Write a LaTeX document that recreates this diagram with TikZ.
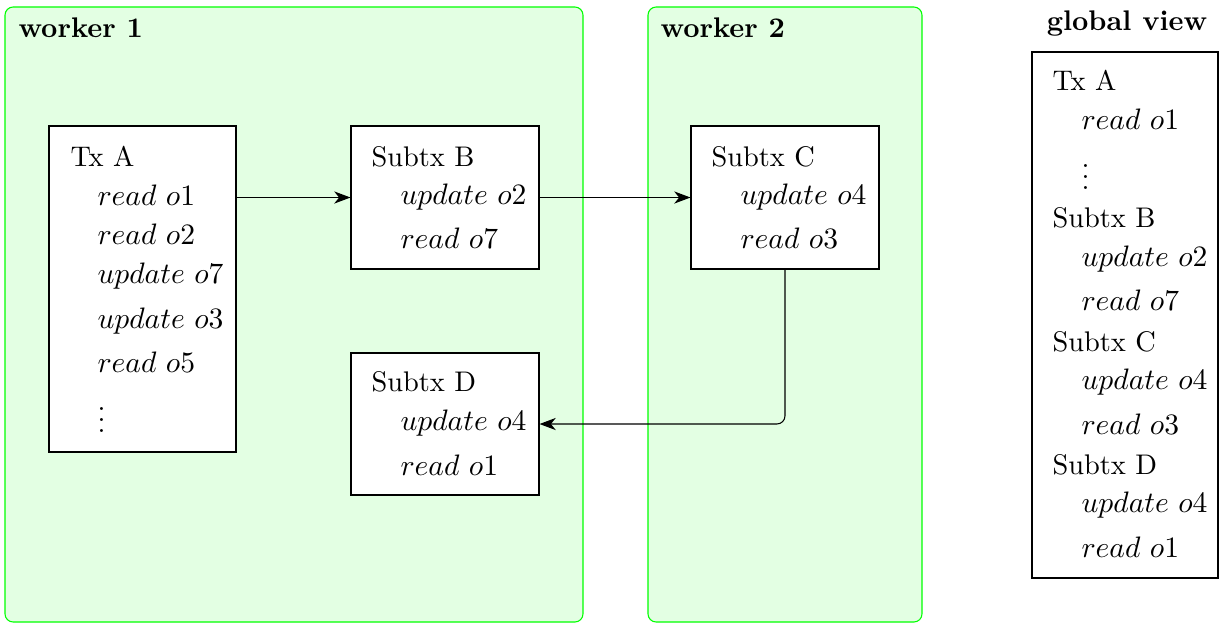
\documentclass[tikz,border=0pt]{standalone}
\usetikzlibrary{arrows.meta,fit}
\begin{document}
\begin{tikzpicture}[x=0.37pt,y=-0.37pt,
  font=\fontsize{10.5}{12.6}\selectfont,
  frame/.style={draw=green,fill=green!11,rounded corners=3pt,inner sep=0pt},
  txbox/.style={draw,fill=white,inner sep=0pt},
  lbl/.style={anchor=base west,inner sep=0pt},
  ttl/.style={anchor=base west,inner sep=0pt,font=\fontsize{10.5}{12.6}\selectfont\bfseries},
  arr/.style={-{Stealth[length=6pt,width=4.5pt,inset=1.8pt]}}]
\useasboundingbox (0,0) rectangle (1225,623);
% worker frames
\node[frame,fit={(5,7) (583,622)}] (w1) {};
\node[frame,fit={(648,7) (922,622)}] (w2) {};
\node[ttl] (w1t) at (18,37) {worker 1};
\node[ttl] (w2t) at (660,37) {worker 2};
\node[ttl,anchor=base] (gvt) at (1127,30) {global view};
% boxes
\node[txbox,fit={(49,126) (236,452)}] (A) {};
\node[txbox,fit={(351,126) (539,269)}] (B) {};
\node[txbox,fit={(691,126) (879,269)}] (C) {};
\node[txbox,fit={(351,353) (539,495)}] (D) {};
\node[txbox,fit={(1032,52) (1218,578)}] (G) {};
% Tx A text
\node[lbl] (a0) at (70,166) {Tx A};
\node[lbl] (a1) at (97,205) {$read\ o1$};
\node[lbl] (a2) at (97,244) {$read\ o2$};
\node[lbl] (a3) at (97,283) {$update\ o7$};
\node[lbl] (a4) at (97,328) {$update\ o3$};
\node[lbl] (a5) at (97,372) {$read\ o5$};
\node[lbl] (a6) at (97,432) {\smash{$\vdots$}};
% Subtx B
\node[lbl] (b0) at (371,166) {Subtx B};
\node[lbl] (b1) at (400,204) {$update\ o2$};
\node[lbl] (b2) at (400,248) {$read\ o7$};
% Subtx C
\node[lbl] (c0) at (711,166) {Subtx C};
\node[lbl] (c1) at (740,204) {$update\ o4$};
\node[lbl] (c2) at (740,248) {$read\ o3$};
% Subtx D
\node[lbl] (d0) at (371,391) {Subtx D};
\node[lbl] (d1) at (400,430) {$update\ o4$};
\node[lbl] (d2) at (400,475) {$read\ o1$};
% global view
\node[lbl] (g0) at (1052,90) {Tx A};
\node[lbl] (g1) at (1081,129) {$read\ o1$};
\node[lbl] (g2) at (1081,189) {\smash{$\vdots$}};
\node[lbl] (g3) at (1052,227) {Subtx B};
\node[lbl] (g4) at (1081,266) {$update\ o2$};
\node[lbl] (g5) at (1081,310) {$read\ o7$};
\node[lbl] (g6) at (1052,351) {Subtx C};
\node[lbl] (g7) at (1081,389) {$update\ o4$};
\node[lbl] (g8) at (1081,434) {$read\ o3$};
\node[lbl] (g9) at (1052,474) {Subtx D};
\node[lbl] (g10) at (1081,512) {$update\ o4$};
\node[lbl] (g11) at (1081,557) {$read\ o1$};
% connectors
\draw[arr] (A.east |- B.west) -- (B.west);
\draw[arr] (B.east) -- (C.west);
\draw[arr,rounded corners=3pt] (C.south) |- (D.east);
\end{tikzpicture}
\end{document}
